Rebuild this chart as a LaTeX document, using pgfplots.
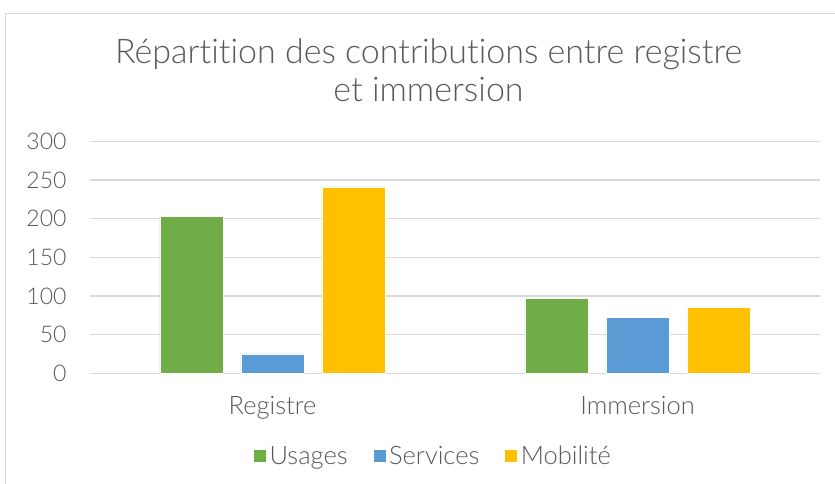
\documentclass[border=0pt]{standalone}
\usepackage{pgfplots}
\pgfplotsset{compat=1.18}
\usepackage{fontspec}
\setmainfont{Lato}[UprightFont=* Light, Ligatures=NoCommon]
\definecolor{cgreen}{HTML}{70AD47}
\definecolor{cblue}{HTML}{5B9BD5}
\definecolor{cyellow}{HTML}{FFC000}
\definecolor{ctext}{HTML}{595959}
\definecolor{cgrid}{HTML}{D9D9D9}
\begin{document}
\begin{tikzpicture}[x=1bp,y=1bp]
\begin{axis}[
  at={(90bp,110.7bp)}, anchor=south west,
  scale only axis, width=730bp, height=232bp,
  xmin=-0.5, xmax=1.5, ymin=0, ymax=300,
  ytick={0,50,...,300},
  xtick={0,1}, xticklabels={Registre,Immersion},
  major tick length=0pt,
  axis line style={draw=none},
  ymajorgrids, grid style={cgrid, line width=1.3bp},
  ybar, bar width=63.5bp,
  /pgf/number format/assume math mode=true,
  ticklabel style={font=\fontsize{23bp}{26bp}\selectfont, text=ctext},
  yticklabel style={xshift=-20bp},
  xticklabel style={yshift=-19bp, font=\fontsize{25.5bp}{30bp}\selectfont},
  legend style={at={(0.4705,-0.356)}, anchor=center, draw=none, legend columns=-1,
    font=\fontsize{25.5bp}{30bp}\selectfont, text=ctext,
    nodes={inner sep=3bp},
    /tikz/every odd column/.append style={column sep=0bp},
    /tikz/every even column/.append style={column sep=22bp}},
  legend image code/.code={\fill[#1] (0bp,-6.5bp) rectangle (13bp,6.5bp);},
]
\addplot[fill=cgreen, draw=white, line width=0.5bp, bar shift=-81bp] coordinates {(0,203) (1,97)};
\addplot[fill=cblue, draw=white, line width=0.5bp, bar shift=0bp] coordinates {(0,25) (1,72)};
\addplot[fill=cyellow, draw=white, line width=0.5bp, bar shift=81bp] coordinates {(0,241) (1,85)};
\legend{Usages,Services,Mobilité}
\end{axis}
\node[anchor=base, text=ctext, font=\fontsize{34bp}{40bp}\selectfont] at (428.5bp,420bp) {Répartition des contributions entre registre};
\node[anchor=base, text=ctext, font=\fontsize{34bp}{40bp}\selectfont] at (428.5bp,382bp) {et immersion};
\draw[cgrid, line width=1.3bp] (5.5bp,0bp) -- (5.5bp,470.5bp) -- (835bp,470.5bp);
\pgfresetboundingbox
\path[use as bounding box] (0,0) rectangle (835bp,484bp);
\end{tikzpicture}
\end{document}
